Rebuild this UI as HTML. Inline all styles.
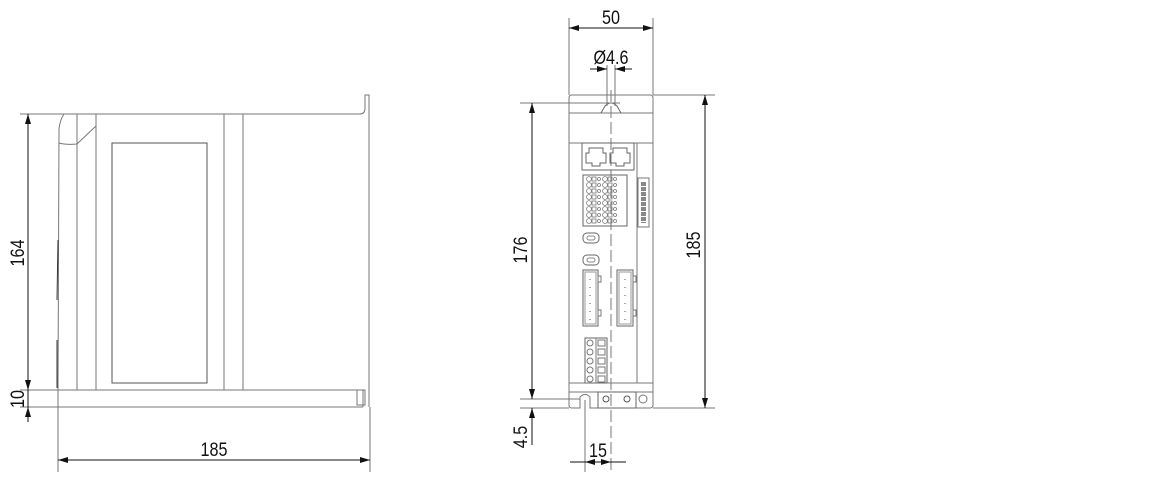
<!DOCTYPE html>
<html><head><meta charset="utf-8"><style>
html,body{margin:0;padding:0;background:#fff;}
svg{display:block;}
text{font-family:"Liberation Sans",sans-serif;font-size:19px;fill:#111;}
</style></head><body>
<svg width="1160" height="481" viewBox="0 0 1160 481" xmlns="http://www.w3.org/2000/svg">
<defs>
<marker id="a" viewBox="0 0 10 6" refX="10" refY="3" markerWidth="10" markerHeight="6" orient="auto-start-reverse" markerUnits="userSpaceOnUse"><path d="M0,0 L10,3 L0,6 Z" fill="#111"/></marker>
</defs>
<g fill="none" stroke="#777" stroke-width="1">
<path d="M61,114 L360,114 Q365,114 365,108 L365,95 L369,95 L369,407"/>
<path d="M64,114 Q60,120 59,129 L58,390"/>
<path d="M59,143 Q66,145 77,144 L96,126 L96,114"/>
<line x1="77" y1="114" x2="77" y2="390"/>
<line x1="96" y1="114" x2="96" y2="390"/>
<line x1="224" y1="114" x2="224" y2="390"/>
<line x1="243" y1="114" x2="243" y2="390"/>
<rect x="112" y="143" width="95" height="240" stroke="#555"/>
<line x1="58" y1="390" x2="363" y2="390"/>
<line x1="20" y1="407" x2="363" y2="407"/>
<line x1="363" y1="390" x2="363" y2="407"/>
<rect x="357" y="390" width="8" height="15"/>
<line x1="20" y1="114" x2="61" y2="114"/>
<line x1="20" y1="390" x2="58" y2="390"/>
<line x1="58" y1="390" x2="58" y2="472"/>
<line x1="370" y1="407" x2="370" y2="472"/>
<path d="M58,240 L57,300 M57,340 L57,388" stroke="#333"/>
</g>
<g stroke="#111" stroke-width="1" fill="none">
<line x1="28" y1="114" x2="28" y2="390" marker-start="url(#a)" marker-end="url(#a)"/>
<line x1="28" y1="419" x2="28" y2="407" marker-end="url(#a)"/>
<line x1="28" y1="390" x2="28" y2="422"/>
<line x1="58" y1="460" x2="370" y2="460" marker-start="url(#a)" marker-end="url(#a)"/>
</g>
<text transform="translate(214,456) scale(0.85,1)" text-anchor="middle">185</text>
<text transform="translate(24,253) rotate(-90) scale(0.85,1)" text-anchor="middle">164</text>
<text transform="translate(24,399) rotate(-90) scale(0.85,1)" text-anchor="middle">10</text>

<g fill="none" stroke="#777" stroke-width="1">
<path d="M569,113 L569,98 Q569,95 572,95 L650,95 Q653,95 653,98 L653,113"/>
<rect x="569" y="113" width="84" height="30"/>
<path d="M569,143 L569,383 L653,383 L653,143"/>
<line x1="637" y1="143" x2="637" y2="383"/>
<path d="M569,383 L569,405 Q569,408 572,408 L580,408 L580,397 Q585,392 590,397 L590,408 L650,408 Q653,408 653,405 L653,383"/>
<line x1="569" y1="392" x2="653" y2="392"/>
<path d="M601,113 L605,106 Q611,100 617,106 L621,113" stroke="#666"/>
<line x1="653" y1="95" x2="715" y2="95"/>
<line x1="653" y1="408" x2="715" y2="408"/>
<line x1="520" y1="103" x2="620" y2="103"/>
<line x1="520" y1="399" x2="580" y2="399"/>
<line x1="520" y1="408" x2="569" y2="408"/>
<line x1="569" y1="18" x2="569" y2="95"/>
<line x1="653" y1="18" x2="653" y2="95"/>
<line x1="607" y1="65" x2="607" y2="106"/>
<line x1="615" y1="65" x2="615" y2="106"/>
<line x1="585" y1="400" x2="585" y2="472"/>
<line x1="611" y1="90" x2="611" y2="472" stroke-dasharray="12,4"/>
<rect x="582" y="143" width="52" height="27" stroke="#666"/>
<path d="M586,153 L589,153 L589,148 L603,148 L603,153 L606,153 L606,163 L600,163 L600,166 L592,166 L592,163 L586,163 Z" stroke="#666"/>
<path d="M610,153 L613,153 L613,148 L627,148 L627,153 L630,153 L630,163 L624,163 L624,166 L616,166 L616,163 L610,163 Z" stroke="#666"/>
<rect x="583" y="175" width="44" height="51" stroke="#666"/>
<g stroke="#777" stroke-width="0.8">
<circle cx="589" cy="179" r="2.4"/><rect x="592" y="177" width="4" height="4"/><circle cx="599" cy="179" r="1.5"/><circle cx="605" cy="179" r="2.4"/><rect x="608" y="177" width="4" height="4"/><circle cx="615" cy="179" r="1.5"/>
<circle cx="589" cy="185" r="2.4"/><rect x="592" y="183" width="4" height="4"/><circle cx="599" cy="185" r="1.5"/><circle cx="605" cy="185" r="2.4"/><rect x="608" y="183" width="4" height="4"/><circle cx="615" cy="185" r="1.5"/>
<circle cx="589" cy="191" r="2.4"/><rect x="592" y="189" width="4" height="4"/><circle cx="599" cy="191" r="1.5"/><circle cx="605" cy="191" r="2.4"/><rect x="608" y="189" width="4" height="4"/><circle cx="615" cy="191" r="1.5"/>
<circle cx="589" cy="197" r="2.4"/><rect x="592" y="195" width="4" height="4"/><circle cx="599" cy="197" r="1.5"/><circle cx="605" cy="197" r="2.4"/><rect x="608" y="195" width="4" height="4"/><circle cx="615" cy="197" r="1.5"/>
<circle cx="589" cy="203" r="2.4"/><rect x="592" y="201" width="4" height="4"/><circle cx="599" cy="203" r="1.5"/><circle cx="605" cy="203" r="2.4"/><rect x="608" y="201" width="4" height="4"/><circle cx="615" cy="203" r="1.5"/>
<circle cx="589" cy="209" r="2.4"/><rect x="592" y="207" width="4" height="4"/><circle cx="599" cy="209" r="1.5"/><circle cx="605" cy="209" r="2.4"/><rect x="608" y="207" width="4" height="4"/><circle cx="615" cy="209" r="1.5"/>
<circle cx="589" cy="215" r="2.4"/><rect x="592" y="213" width="4" height="4"/><circle cx="599" cy="215" r="1.5"/><circle cx="605" cy="215" r="2.4"/><rect x="608" y="213" width="4" height="4"/><circle cx="615" cy="215" r="1.5"/>
<circle cx="589" cy="221" r="2.4"/><rect x="592" y="219" width="4" height="4"/><circle cx="599" cy="221" r="1.5"/><circle cx="605" cy="221" r="2.4"/><rect x="608" y="219" width="4" height="4"/><circle cx="615" cy="221" r="1.5"/>
</g>
<rect x="638" y="178" width="11" height="49" stroke="#777"/>
<line x1="643.5" y1="182" x2="643.5" y2="223" stroke="#888" stroke-width="5" stroke-dasharray="4,1"/>
<rect x="583" y="233" width="16" height="10" rx="4" stroke="#666"/><rect x="587" y="236" width="8" height="4" rx="2" stroke="#888"/>
<rect x="583" y="255" width="16" height="10" rx="4" stroke="#666"/><rect x="587" y="258" width="8" height="4" rx="2" stroke="#888"/>
<rect x="583" y="270" width="15" height="56" stroke="#666"/><rect x="585" y="272" width="11" height="52" stroke="#999"/>
<rect x="598" y="276" width="3" height="6"/><rect x="598" y="310" width="3" height="6"/>
<rect x="617" y="270" width="16" height="56" stroke="#666"/><rect x="619" y="272" width="12" height="52" stroke="#999"/>
<rect x="633" y="276" width="3" height="6"/><rect x="633" y="310" width="3" height="6"/>
<g stroke="#555"><line x1="590" y1="279" x2="590" y2="280"/><line x1="590" y1="287" x2="590" y2="288"/><line x1="590" y1="295" x2="590" y2="296"/><line x1="590" y1="303" x2="590" y2="304"/><line x1="590" y1="311" x2="590" y2="312"/><line x1="590" y1="319" x2="590" y2="320"/>
<line x1="625" y1="279" x2="625" y2="280"/><line x1="625" y1="287" x2="625" y2="288"/><line x1="625" y1="295" x2="625" y2="296"/><line x1="625" y1="303" x2="625" y2="304"/><line x1="625" y1="311" x2="625" y2="312"/><line x1="625" y1="319" x2="625" y2="320"/></g>
<rect x="585" y="338" width="22" height="45" stroke="#666"/>
<line x1="596" y1="338" x2="596" y2="383"/>
<g stroke="#777"><circle cx="590" cy="343" r="3"/><circle cx="590" cy="352" r="3"/><circle cx="590" cy="361" r="3"/><circle cx="590" cy="370" r="3"/><circle cx="590" cy="379" r="3"/>
<rect x="598" y="340" width="7" height="6"/><rect x="598" y="349" width="7" height="6"/><rect x="598" y="358" width="7" height="6"/><rect x="598" y="367" width="7" height="6"/><rect x="598" y="376" width="7" height="6"/></g>
<rect x="598" y="392" width="38" height="16" stroke="#666"/>
<circle cx="606" cy="399" r="3" stroke="#555"/><circle cx="627" cy="399" r="3" stroke="#555"/><circle cx="643" cy="399" r="4"/>
</g>
<g stroke="#111" stroke-width="1" fill="none">
<line x1="569" y1="28" x2="653" y2="28" marker-start="url(#a)" marker-end="url(#a)"/>
<line x1="590" y1="69" x2="607" y2="69" marker-end="url(#a)"/>
<line x1="632" y1="69" x2="615" y2="69" marker-end="url(#a)"/>
<line x1="532" y1="103" x2="532" y2="399" marker-start="url(#a)" marker-end="url(#a)"/>
<line x1="532" y1="420" x2="532" y2="408" marker-end="url(#a)"/>
<line x1="532" y1="408" x2="532" y2="445"/>
<line x1="705" y1="95" x2="705" y2="408" marker-start="url(#a)" marker-end="url(#a)"/>
<line x1="585" y1="462" x2="611" y2="462" marker-start="url(#a)" marker-end="url(#a)"/>
<line x1="570" y1="462" x2="585" y2="462"/><line x1="611" y1="462" x2="626" y2="462"/>
</g>
<text transform="translate(611,24) scale(0.85,1)" text-anchor="middle">50</text>
<text transform="translate(611,64) scale(0.85,1)" text-anchor="middle">Ø4.6</text>
<text transform="translate(598,457) scale(0.85,1)" text-anchor="middle">15</text>
<text transform="translate(527,250) rotate(-90) scale(0.85,1)" text-anchor="middle">176</text>
<text transform="translate(527,437) rotate(-90) scale(0.85,1)" text-anchor="middle">4.5</text>
<text transform="translate(700,245) rotate(-90) scale(0.85,1)" text-anchor="middle">185</text>
</svg>
</body></html>
